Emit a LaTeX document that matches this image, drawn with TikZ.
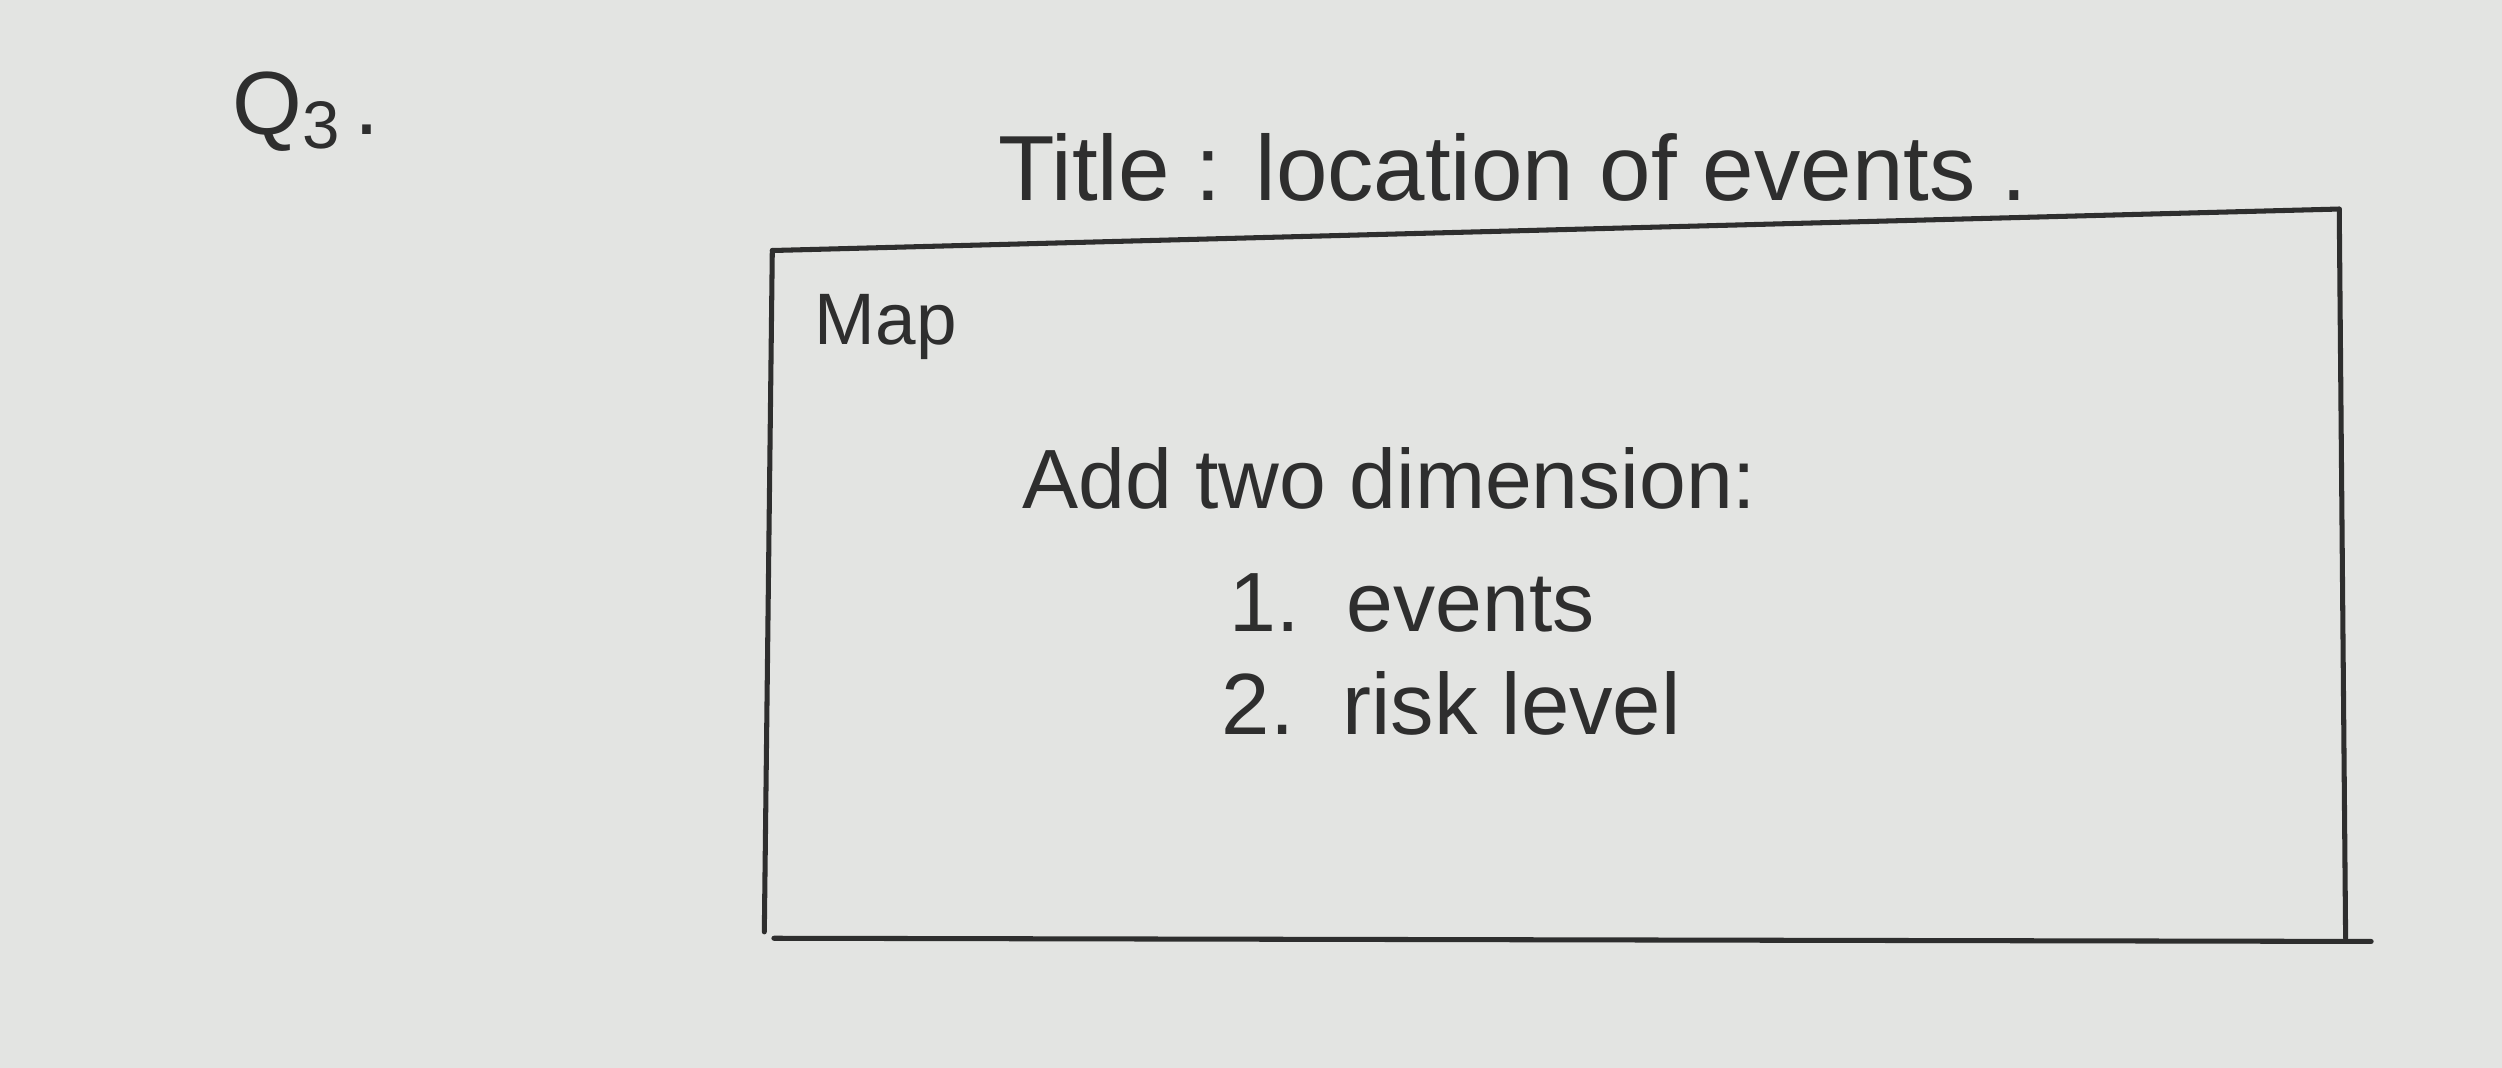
\documentclass[tikz,border=0pt]{standalone}
\usepackage{fontspec}
\setmainfont{Liberation Sans}
\definecolor{paper}{HTML}{E3E4E2}
\definecolor{ink}{HTML}{2E2E2E}
\begin{document}
\begin{tikzpicture}[x=0.1mm,y=-0.1mm,
  hand/.style={text=ink,inner sep=0pt,anchor=west},
  edge/.style={draw=ink,line width=0.9pt,line cap=round}]
\fill[paper] (0,0) rectangle (1568,669);
\useasboundingbox (0,0) rectangle (1568,669);
\node[hand,font=\fontsize{16}{20}\selectfont] (q) at (145,70) {Q\raisebox{-0.3ex}{\fontsize{12}{14}\selectfont 3}\,.};
\node[hand,font=\fontsize{16.5}{20}\selectfont] (title) at (625,105) {Title : location of events .};
\coordinate (tl) at (484,157);
\coordinate (tr) at (1466,131);
\coordinate (br) at (1470,588);
\coordinate (bl) at (479,584);
\draw[edge] (tl) -- (tr);
\draw[edge] (tr) -- (br);
\draw[edge] (tl) -- (bl);
\draw[edge] (485,588) -- (1486,590);
\node[hand,font=\fontsize{13}{16}\selectfont] (map) at (510,205) {Map};
\node[hand,font=\fontsize{15}{18}\selectfont] (add) at (640,300) {Add two dimension:};
\node[hand,font=\fontsize{15}{18}\selectfont] (e1) at (770,378) {1.\ \ events};
\node[hand,font=\fontsize{15.5}{18}\selectfont] (e2) at (765,441) {2.\ \ risk level};
\end{tikzpicture}
\end{document}
